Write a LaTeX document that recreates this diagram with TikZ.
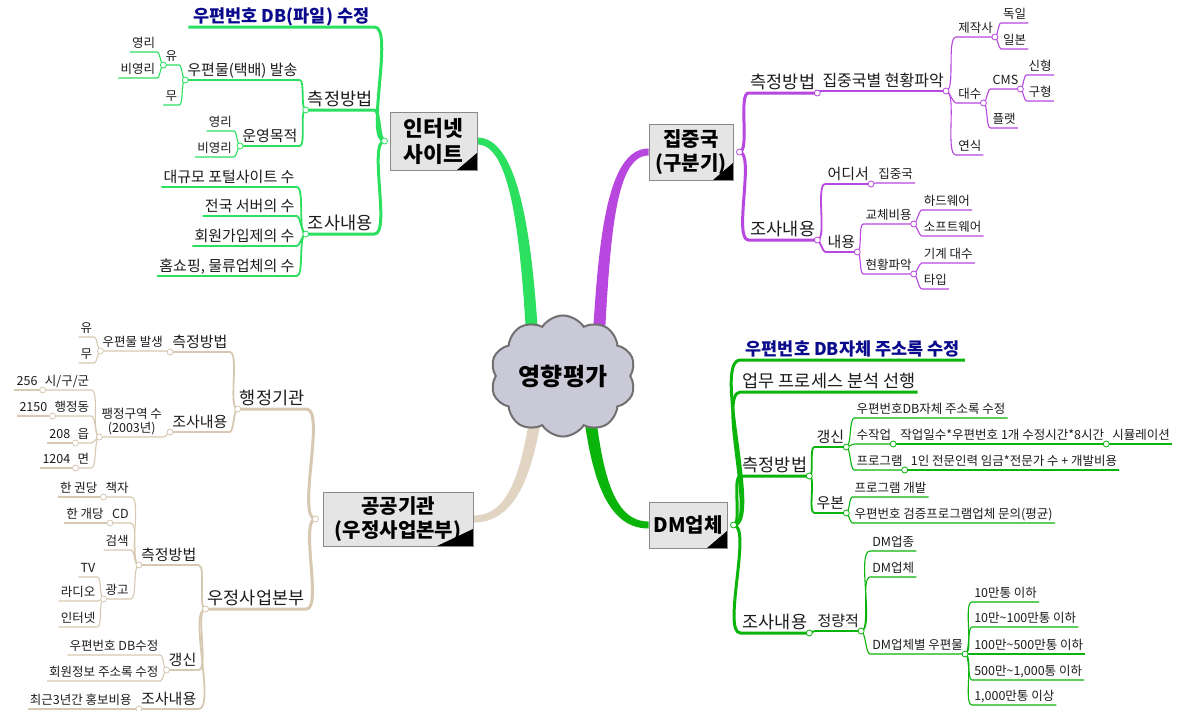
\documentclass[tikz,border=0pt]{standalone}
\usepackage{fontspec}
\setmainfont{Noto Sans CJK KR}
\usetikzlibrary{shapes.symbols,positioning,calc}
\pgfdeclarelayer{background}
\pgfsetlayers{background,main}

\definecolor{ink}{HTML}{1C1C1C}
\definecolor{navy}{HTML}{0A0A8C}
\definecolor{cI}{HTML}{2BE05E}
\definecolor{cJ}{HTML}{B847E0}
\definecolor{cD}{HTML}{0AB40A}
\definecolor{cP}{HTML}{D7C8B2}
\definecolor{cPmain}{HTML}{E2D4C2}
\definecolor{boxfill}{HTML}{E5E5E5}
\definecolor{boxline}{HTML}{8A8A8A}
\definecolor{cloudfill}{HTML}{C9C9D7}
\definecolor{cloudline}{HTML}{707070}

\tikzset{
  lt/.style={anchor=south east},
  rt/.style={anchor=south west},
  lbl/.style={inner xsep=2pt, inner ysep=2pt, text=ink},
  h1/.style={lbl, font=\fontsize{17.5}{20}\selectfont, text height=14.9pt, text depth=2.6pt},
  h2/.style={lbl, font=\fontsize{15}{17}\selectfont, text height=12.8pt, text depth=2.2pt},
  h3/.style={lbl, font=\fontsize{12.5}{14.5}\selectfont, text height=10.6pt, text depth=1.9pt},
  head/.style={lbl, text=navy, inner xsep=5pt, font=\bfseries\fontsize{17.5}{20}\selectfont, text height=14.9pt, text depth=2.6pt},
  w1/.style={line width=3pt, line join=round},
  w2/.style={line width=1.8pt, line join=round},
  w3/.style={line width=1.1pt, line join=round},
  lc/.style={out=180, in=0, looseness=0.45},
  rc/.style={out=0, in=180, looseness=0.45},
  dot/.style={circle, draw=#1, fill=white, line width=0.8pt, inner sep=0pt, minimum size=6pt},
  corner/.style={path picture={\fill[black] (path picture bounding box.south east) -- ++(-#1,0) -- ++(#1,-17) -- cycle;}},
  hub/.style={draw=boxline, fill=boxfill, line width=1pt, align=center, inner sep=2pt,
    font=\bfseries\fontsize{20}{24}\selectfont, corner=20},
  cloudy/.style={cloud, cloud puffs=10, cloud puff arc=115, aspect=1.3, draw=cloudline, fill=cloudfill,
    line width=2pt, minimum width=140, minimum height=106, font=\bfseries\fontsize{24}{26}\selectfont},
}

\begin{document}
\begin{tikzpicture}[x=1pt,y=-1pt]
\useasboundingbox (0,0) rectangle (1192,710);

% centre and main topics
\node[cloudy] (core) at (563,376) {영향평가};
\node[hub, minimum width=87, minimum height=58, font=\bfseries\fontsize{21.5}{26}\selectfont] (inet) at (433.5,141) {인터넷\\사이트};
\node[hub, minimum width=84, minimum height=56] (jung) at (691,152) {집중국\\(구분기)};
\node[hub, minimum width=150, minimum height=54, corner=36] (pub) at (398,519) {공공기관\\(우정사업본부)};
\node[hub, minimum width=78, minimum height=46] (dm) at (688,525) {DM업체};

% tapered trunks
\begin{pgfonlayer}{background}
\fill[white] (0,0) rectangle (1192,710);
\fill[cI] ($(inet.east)+(0,-3.5)$) .. controls +(42,0) and +(-6,-110) .. ($(core.center)+(-24,-25)$)
  -- ($(core.center)+(-36,-25)$) .. controls +(-6,-110) and +(34,0) .. ($(inet.east)+(0,3.5)$) -- cycle;
\fill[cJ] ($(jung.west)+(0,-3.5)$) .. controls +(-42,0) and +(6,-110) .. ($(core.center)+(29,-25)$)
  -- ($(core.center)+(41,-25)$) .. controls +(6,-110) and +(-34,0) .. ($(jung.west)+(0,3.5)$) -- cycle;
\fill[cPmain] ($(pub.east)+(0,3.5)$) .. controls +(44,0) and +(-10,70) .. ($(core.center)+(-19,25)$)
  -- ($(core.center)+(-31,25)$) .. controls +(-10,70) and +(36,0) .. ($(pub.east)+(0,-3.5)$) -- cycle;
\fill[cD] ($(dm.west)+(0,3.5)$) .. controls +(-44,0) and +(8,70) .. ($(core.center)+(19,25)$)
  -- ($(core.center)+(31,25)$) .. controls +(8,70) and +(-36,0) .. ($(dm.west)+(0,-3.5)$) -- cycle;
\end{pgfonlayer}

% 인터넷 사이트
\coordinate (inetJ) at ($(inet.west)+(-5,0)$);
\node[head,lt] (iDB) at ($(inetJ |- 0,27)+(-10,0)$) {우편번호 DB(파일) 수정};
\node[h1,lt] (iM) at ($(inetJ |- 0,110)+(-10,0)$) {측정방법};
\node[h2,lt] (iM1) at ($(iM.south west |- 0,80)+(-6,0)$) {우편물(택배) 발송};
\node[h3,lt] (iM1a) at ($(iM1.south west |- 0,65)+(-6,0)$) {유};
\node[h3,lt] (iM1a1) at ($(iM1a.south west |- 0,52)+(-6,0)$) {영리};
\node[h3,lt] (iM1a2) at ($(iM1a.south west |- 0,78)+(-6,0)$) {비영리};
\node[h3,lt] (iM1b) at ($(iM1.south west |- 0,105)+(-6,0)$) {무};
\node[h2,lt] (iM2) at ($(iM.south west |- 0,146)+(-6,0)$) {운영목적};
\node[h3,lt] (iM2a) at ($(iM2.south west |- 0,131)+(-6,0)$) {영리};
\node[h3,lt] (iM2b) at ($(iM2.south west |- 0,157)+(-6,0)$) {비영리};
\node[h1,lt] (iS) at ($(inetJ |- 0,234)+(-10,0)$) {조사내용};
\node[h2,lt] (iS1) at ($(iS.south west |- 0,187)+(-9,0)$) {대규모 포털사이트 수};
\node[h2,lt] (iS2) at ($(iS.south west |- 0,216)+(-9,0)$) {전국 서버의 수};
\node[h2,lt] (iS3) at ($(iS.south west |- 0,246)+(-9,0)$) {회원가입제의 수};
\node[h2,lt] (iS4) at ($(iS.south west |- 0,276)+(-9,0)$) {홈쇼핑, 물류업체의 수};

\draw[cI,w1] (inetJ) to[lc] (iDB.south east) -- (iDB.south west);
\draw[cI,w1] (inetJ) to[lc] (iM.south east) -- (iM.south west);
\draw[cI,w1] (inetJ) to[lc] (iS.south east) -- (iS.south west);
\draw[cI,w2] (iM.south west) to[lc] (iM1.south east) -- (iM1.south west);
\draw[cI,w2] (iM.south west) to[lc] (iM2.south east) -- (iM2.south west);
\draw[cI,w3] (iM1.south west) to[lc] (iM1a.south east) -- (iM1a.south west);
\draw[cI,w3] (iM1.south west) to[lc] (iM1b.south east) -- (iM1b.south west);
\draw[cI,w3] (iM1a.south west) to[lc] (iM1a1.south east) -- (iM1a1.south west);
\draw[cI,w3] (iM1a.south west) to[lc] (iM1a2.south east) -- (iM1a2.south west);
\draw[cI,w3] (iM2.south west) to[lc] (iM2a.south east) -- (iM2a.south west);
\draw[cI,w3] (iM2.south west) to[lc] (iM2b.south east) -- (iM2b.south west);
\draw[cI,w2] (iS.south west) to[lc] (iS1.south east) -- (iS1.south west);
\draw[cI,w2] (iS.south west) to[lc] (iS2.south east) -- (iS2.south west);
\draw[cI,w2] (iS.south west) to[lc] (iS3.south east) -- (iS3.south west);
\draw[cI,w2] (iS.south west) to[lc] (iS4.south east) -- (iS4.south west);

\node[dot=cI] at (inetJ) {};
\node[dot=cI] at (iM.south west) {};
\node[dot=cI] at (iM1.south west) {};
\node[dot=cI] at (iM1a.south west) {};
\node[dot=cI] at (iM2.south west) {};
\node[dot=cI] at (iS.south west) {};

% 집중국 (구분기)
\coordinate (jungJ) at ($(jung.east)+(6,0)$);
\node[h1,rt] (jM) at ($(jungJ |- 0,93)+(9,0)$) {측정방법};
\node[h2,rt,font=\fontsize{16}{18}\selectfont] (jM1) at ($(jM.south east |- 0,91)+(3,0)$) {집중국별 현황파악};
\node[h3,rt] (jM1a) at ($(jM1.south east |- 0,37)+(10,0)$) {제작사};
\node[h3,rt] (jM1a1) at ($(jM1a.south east |- 0,23)+(6,0)$) {독일};
\node[h3,rt] (jM1a2) at ($(jM1a.south east |- 0,49)+(6,0)$) {일본};
\node[h3,rt] (jM1b) at ($(jM1.south east |- 0,103)+(10,0)$) {대수};
\node[h3,rt] (jM1b1) at ($(jM1b.south east |- 0,89)+(7,0)$) {CMS};
\node[h3,rt] (jM1b1a) at ($(jM1b1.south east |- 0,75)+(6,0)$) {신형};
\node[h3,rt] (jM1b1b) at ($(jM1b1.south east |- 0,101)+(6,0)$) {구형};
\node[h3,rt] (jM1b2) at ($(jM1b.south east |- 0,128)+(7,0)$) {플랫};
\node[h3,rt] (jM1c) at ($(jM1.south east |- 0,155)+(10,0)$) {연식};
\node[h1,rt] (jS) at ($(jungJ |- 0,240)+(9,0)$) {조사내용};
\node[h2,rt] (jS1) at ($(jS.south east |- 0,184)+(8,0)$) {어디서};
\node[h3,rt] (jS1a) at ($(jS1.south east |- 0,183)+(5,0)$) {집중국};
\node[h2,rt] (jS2) at ($(jS.south east |- 0,252)+(8,0)$) {내용};
\node[h3,rt] (jS2a) at ($(jS2.south east |- 0,224)+(6,0)$) {교체비용};
\node[h3,rt] (jS2a1) at ($(jS2a.south east |- 0,210)+(8,0)$) {하드웨어};
\node[h3,rt] (jS2a2) at ($(jS2a.south east |- 0,236)+(8,0)$) {소프트웨어};
\node[h3,rt] (jS2b) at ($(jS2.south east |- 0,274)+(6,0)$) {현황파악};
\node[h3,rt] (jS2b1) at ($(jS2b.south east |- 0,263)+(8,0)$) {기계 대수};
\node[h3,rt] (jS2b2) at ($(jS2b.south east |- 0,289)+(8,0)$) {타입};

\draw[cJ,w1] (jungJ) to[rc] (jM.south west) -- (jM.south east);
\draw[cJ,w1] (jungJ) to[rc] (jS.south west) -- (jS.south east);
\draw[cJ,w2] (jM.south east) to[rc] (jM1.south west) -- (jM1.south east);
\draw[cJ,w3] (jM1.south east) to[rc] (jM1a.south west) -- (jM1a.south east);
\draw[cJ,w3] (jM1a.south east) to[rc] (jM1a1.south west) -- (jM1a1.south east);
\draw[cJ,w3] (jM1a.south east) to[rc] (jM1a2.south west) -- (jM1a2.south east);
\draw[cJ,w3] (jM1.south east) to[rc] (jM1b.south west) -- (jM1b.south east);
\draw[cJ,w3] (jM1b.south east) to[rc] (jM1b1.south west) -- (jM1b1.south east);
\draw[cJ,w3] (jM1b1.south east) to[rc] (jM1b1a.south west) -- (jM1b1a.south east);
\draw[cJ,w3] (jM1b1.south east) to[rc] (jM1b1b.south west) -- (jM1b1b.south east);
\draw[cJ,w3] (jM1b.south east) to[rc] (jM1b2.south west) -- (jM1b2.south east);
\draw[cJ,w3] (jM1.south east) to[rc] (jM1c.south west) -- (jM1c.south east);
\draw[cJ,w2] (jS.south east) to[rc] (jS1.south west) -- (jS1.south east);
\draw[cJ,w3] (jS1.south east) to[rc] (jS1a.south west) -- (jS1a.south east);
\draw[cJ,w2] (jS.south east) to[rc] (jS2.south west) -- (jS2.south east);
\draw[cJ,w3] (jS2.south east) to[rc] (jS2a.south west) -- (jS2a.south east);
\draw[cJ,w3] (jS2a.south east) to[rc] (jS2a1.south west) -- (jS2a1.south east);
\draw[cJ,w3] (jS2a.south east) to[rc] (jS2a2.south west) -- (jS2a2.south east);
\draw[cJ,w3] (jS2.south east) to[rc] (jS2b.south west) -- (jS2b.south east);
\draw[cJ,w3] (jS2b.south east) to[rc] (jS2b1.south west) -- (jS2b1.south east);
\draw[cJ,w3] (jS2b.south east) to[rc] (jS2b2.south west) -- (jS2b2.south east);

\node[dot=cJ] at (jungJ) {};
\node[dot=cJ] at (jM.south east) {};
\node[dot=cJ] at (jM1.south east) {};
\node[dot=cJ] at (jM1a.south east) {};
\node[dot=cJ] at (jM1b.south east) {};
\node[dot=cJ] at (jM1b1.south east) {};
\node[dot=cJ] at (jS.south east) {};
\node[dot=cJ] at (jS1.south east) {};
\node[dot=cJ] at (jS2.south east) {};
\node[dot=cJ] at (jS2a.south east) {};
\node[dot=cJ] at (jS2b.south east) {};

% DM업체
\coordinate (dmJ) at ($(dm.east)+(6,0)$);
\node[head,rt] (dHead) at ($(dmJ |- 0,360)+(7,0)$) {우편번호 DB자체 주소록 수정};
\node[h1,rt] (dPre) at ($(dmJ |- 0,392)+(7,0)$) {업무 프로세스 분석 선행};
\node[h1,rt] (dM) at ($(dmJ |- 0,476)+(7,0)$) {측정방법};
\node[h2,rt] (dM1) at ($(dM.south east |- 0,447)+(5,0)$) {갱신};
\node[h3,rt] (dM1a) at ($(dM1.south east |- 0,418)+(8,0)$) {우편번호DB자체 주소록 수정};
\node[h3,rt] (dM1b) at ($(dM1.south east |- 0,444)+(8,0)$) {수작업};
\node[h3,rt] (dM1b1) at ($(dM1b.south east |- 0,444)+(5,0)$) {작업일수*우편번호 1개 수정시간*8시간};
\node[h3,rt] (dM1b1a) at ($(dM1b1.south east |- 0,444)+(4,0)$) {시뮬레이션};
\node[h3,rt] (dM1c) at ($(dM1.south east |- 0,470)+(8,0)$) {프로그램};
\node[h3,rt] (dM1c1) at ($(dM1c.south east |- 0,470)+(4,0)$) {1인 전문인력 임금*전문가 수 + 개발비용};
\node[h2,rt] (dM2) at ($(dM.south east |- 0,513)+(5,0)$) {우본};
\node[h3,rt] (dM2a) at ($(dM2.south east |- 0,497)+(6,0)$) {프로그램 개발};
\node[h3,rt] (dM2b) at ($(dM2.south east |- 0,523)+(6,0)$) {우편번호 검증프로그램업체 문의(평균)};
\node[h1,rt] (dS) at ($(dmJ |- 0,633)+(7,0)$) {조사내용};
\node[h2,rt] (dS1) at ($(dS.south east |- 0,631)+(6,0)$) {정량적};
\node[h3,rt] (dS1a) at ($(dS1.south east |- 0,551)+(9,0)$) {DM업종};
\node[h3,rt] (dS1b) at ($(dS1.south east |- 0,577)+(9,0)$) {DM업체};
\node[h3,rt] (dS1c) at ($(dS1.south east |- 0,654)+(9,0)$) {DM업체별 우편물};
\node[h3,rt] (dS1c1) at ($(dS1c.south east |- 0,602)+(7,0)$) {10만통 이하};
\node[h3,rt] (dS1c2) at ($(dS1c.south east |- 0,627)+(7,0)$) {10만\textasciitilde100만통 이하};
\node[h3,rt] (dS1c3) at ($(dS1c.south east |- 0,654)+(7,0)$) {100만\textasciitilde500만통 이하};
\node[h3,rt] (dS1c4) at ($(dS1c.south east |- 0,680)+(7,0)$) {500만\textasciitilde1,000통 이하};
\node[h3,rt] (dS1c5) at ($(dS1c.south east |- 0,705)+(7,0)$) {1,000만통 이상};

\draw[cD,w1] (dmJ) to[rc] (dHead.south west) -- (dHead.south east);
\draw[cD,w1] (dmJ) to[rc] (dPre.south west) -- (dPre.south east);
\draw[cD,w1] (dmJ) to[rc] (dM.south west) -- (dM.south east);
\draw[cD,w1] (dmJ) to[rc] (dS.south west) -- (dS.south east);
\draw[cD,w2] (dM.south east) to[rc] (dM1.south west) -- (dM1.south east);
\draw[cD,w3] (dM1.south east) to[rc] (dM1a.south west) -- (dM1a.south east);
\draw[cD,w3] (dM1.south east) to[rc] (dM1b.south west) -- (dM1b.south east);
\draw[cD,w3] (dM1b.south east) to[rc] (dM1b1.south west) -- (dM1b1.south east);
\draw[cD,w3] (dM1b1.south east) to[rc] (dM1b1a.south west) -- (dM1b1a.south east);
\draw[cD,w3] (dM1.south east) to[rc] (dM1c.south west) -- (dM1c.south east);
\draw[cD,w3] (dM1c.south east) to[rc] (dM1c1.south west) -- (dM1c1.south east);
\draw[cD,w2] (dM.south east) to[rc] (dM2.south west) -- (dM2.south east);
\draw[cD,w3] (dM2.south east) to[rc] (dM2a.south west) -- (dM2a.south east);
\draw[cD,w3] (dM2.south east) to[rc] (dM2b.south west) -- (dM2b.south east);
\draw[cD,w2] (dS.south east) to[rc] (dS1.south west) -- (dS1.south east);
\draw[cD,w3] (dS1.south east) to[rc] (dS1a.south west) -- (dS1a.south east);
\draw[cD,w3] (dS1.south east) to[rc] (dS1b.south west) -- (dS1b.south east);
\draw[cD,w3] (dS1.south east) to[rc] (dS1c.south west) -- (dS1c.south east);
\draw[cD,w3] (dS1c.south east) to[rc] (dS1c1.south west) -- (dS1c1.south east);
\draw[cD,w3] (dS1c.south east) to[rc] (dS1c2.south west) -- (dS1c2.south east);
\draw[cD,w3] (dS1c.south east) to[rc] (dS1c3.south west) -- (dS1c3.south east);
\draw[cD,w3] (dS1c.south east) to[rc] (dS1c4.south west) -- (dS1c4.south east);
\draw[cD,w3] (dS1c.south east) to[rc] (dS1c5.south west) -- (dS1c5.south east);

\node[dot=cD] at (dmJ) {};
\node[dot=cD] at (dM.south east) {};
\node[dot=cD] at (dM1.south east) {};
\node[dot=cD] at (dM1b.south east) {};
\node[dot=cD] at (dM1b1.south east) {};
\node[dot=cD] at (dM1c.south east) {};
\node[dot=cD] at (dM2.south east) {};
\node[dot=cD] at (dS.south east) {};
\node[dot=cD] at (dS1.south east) {};
\node[dot=cD] at (dS1c.south east) {};

% 공공기관 (우정사업본부)
\coordinate (pubJ) at ($(pub.west)+(-7,0)$);
\node[h1,lt] (pA) at ($(pubJ |- 0,409)+(-9,0)$) {행정기관};
\node[h2,lt] (pA1) at ($(pA.south west |- 0,352)+(-8,0)$) {측정방법};
\node[h3,lt] (pA1a) at ($(pA1.south west |- 0,351)+(-5,0)$) {우편물 발생};
\node[h3,lt] (pA1a1) at ($(pA1a.south west |- 0,337)+(-6,0)$) {유};
\node[h3,lt] (pA1a2) at ($(pA1a.south west |- 0,363)+(-6,0)$) {무};
\node[h2,lt] (pA2) at ($(pA.south west |- 0,432)+(-8,0)$) {조사내용};
\node[h3,lt,align=center] (pA2a) at ($(pA2.south west |- 0,437)+(-6,0)$) {팽정구역 수\\(2003년)};
\node[h3,lt] (pA2a1) at ($(pA2a.south west |- 0,390)+(-8,0)$) {시/구/군};
\node[h3,lt] (pA2a1a) at ($(pA2a1.south west |- 0,390)+(-3,0)$) {256};
\node[h3,lt] (pA2a2) at ($(pA2a.south west |- 0,416)+(-8,0)$) {행정동};
\node[h3,lt] (pA2a2a) at ($(pA2a2.south west |- 0,416)+(-3,0)$) {2150};
\node[h3,lt] (pA2a3) at ($(pA2a.south west |- 0,443)+(-8,0)$) {읍};
\node[h3,lt] (pA2a3a) at ($(pA2a3.south west |- 0,443)+(-3,0)$) {208};
\node[h3,lt] (pA2a4) at ($(pA2a.south west |- 0,468)+(-8,0)$) {면};
\node[h3,lt] (pA2a4a) at ($(pA2a4.south west |- 0,468)+(-3,0)$) {1204};
\node[h1,lt] (pB) at ($(pubJ |- 0,609)+(-9,0)$) {우정사업본부};
\node[h2,lt] (pB1) at ($(pB.south west |- 0,565)+(-7,0)$) {측정방법};
\node[h3,lt] (pB1a) at ($(pB1.south west |- 0,497)+(-8,0)$) {책자};
\node[h3,lt] (pB1a1) at ($(pB1a.south west |- 0,497)+(-4,0)$) {한 권당};
\node[h3,lt] (pB1b) at ($(pB1.south west |- 0,523)+(-8,0)$) {CD};
\node[h3,lt] (pB1b1) at ($(pB1b.south west |- 0,523)+(-4,0)$) {한 개당};
\node[h3,lt] (pB1c) at ($(pB1.south west |- 0,550)+(-8,0)$) {검색};
\node[h3,lt] (pB1d) at ($(pB1.south west |- 0,599)+(-8,0)$) {광고};
\node[h3,lt] (pB1d1) at ($(pB1d.south west |- 0,577)+(-6,0)$) {TV};
\node[h3,lt] (pB1d2) at ($(pB1d.south west |- 0,601)+(-6,0)$) {라디오};
\node[h3,lt] (pB1d3) at ($(pB1d.south west |- 0,627)+(-6,0)$) {인터넷};
\node[h2,lt] (pB2) at ($(pB.south west |- 0,670)+(-7,0)$) {갱신};
\node[h3,lt] (pB2a) at ($(pB2.south west |- 0,655)+(-6,0)$) {우편번호 DB수정};
\node[h3,lt] (pB2b) at ($(pB2.south west |- 0,681)+(-6,0)$) {회원정보 주소록 수정};
\node[h2,lt] (pB3) at ($(pB.south west |- 0,709)+(-7,0)$) {조사내용};
\node[h3,lt] (pB3a) at ($(pB3.south west |- 0,709)+(-5,0)$) {최근3년간 홍보비용};

\draw[cP,w1] (pubJ) to[lc] (pA.south east) -- (pA.south west);
\draw[cP,w1] (pubJ) to[lc] (pB.south east) -- (pB.south west);
\draw[cP,w2] (pA.south west) to[lc] (pA1.south east) -- (pA1.south west);
\draw[cP,w3] (pA1.south west) to[lc] (pA1a.south east) -- (pA1a.south west);
\draw[cP,w3] (pA1a.south west) to[lc] (pA1a1.south east) -- (pA1a1.south west);
\draw[cP,w3] (pA1a.south west) to[lc] (pA1a2.south east) -- (pA1a2.south west);
\draw[cP,w2] (pA.south west) to[lc] (pA2.south east) -- (pA2.south west);
\draw[cP,w3] (pA2.south west) to[lc] (pA2a.south east) -- (pA2a.south west);
\draw[cP,w3] (pA2a.south west) to[lc] (pA2a1.south east) -- (pA2a1.south west);
\draw[cP,w3] (pA2a1.south west) to[lc] (pA2a1a.south east) -- (pA2a1a.south west);
\draw[cP,w3] (pA2a.south west) to[lc] (pA2a2.south east) -- (pA2a2.south west);
\draw[cP,w3] (pA2a2.south west) to[lc] (pA2a2a.south east) -- (pA2a2a.south west);
\draw[cP,w3] (pA2a.south west) to[lc] (pA2a3.south east) -- (pA2a3.south west);
\draw[cP,w3] (pA2a3.south west) to[lc] (pA2a3a.south east) -- (pA2a3a.south west);
\draw[cP,w3] (pA2a.south west) to[lc] (pA2a4.south east) -- (pA2a4.south west);
\draw[cP,w3] (pA2a4.south west) to[lc] (pA2a4a.south east) -- (pA2a4a.south west);
\draw[cP,w2] (pB.south west) to[lc] (pB1.south east) -- (pB1.south west);
\draw[cP,w3] (pB1.south west) to[lc] (pB1a.south east) -- (pB1a.south west);
\draw[cP,w3] (pB1a.south west) to[lc] (pB1a1.south east) -- (pB1a1.south west);
\draw[cP,w3] (pB1.south west) to[lc] (pB1b.south east) -- (pB1b.south west);
\draw[cP,w3] (pB1b.south west) to[lc] (pB1b1.south east) -- (pB1b1.south west);
\draw[cP,w3] (pB1.south west) to[lc] (pB1c.south east) -- (pB1c.south west);
\draw[cP,w3] (pB1.south west) to[lc] (pB1d.south east) -- (pB1d.south west);
\draw[cP,w3] (pB1d.south west) to[lc] (pB1d1.south east) -- (pB1d1.south west);
\draw[cP,w3] (pB1d.south west) to[lc] (pB1d2.south east) -- (pB1d2.south west);
\draw[cP,w3] (pB1d.south west) to[lc] (pB1d3.south east) -- (pB1d3.south west);
\draw[cP,w2] (pB.south west) to[lc] (pB2.south east) -- (pB2.south west);
\draw[cP,w3] (pB2.south west) to[lc] (pB2a.south east) -- (pB2a.south west);
\draw[cP,w3] (pB2.south west) to[lc] (pB2b.south east) -- (pB2b.south west);
\draw[cP,w2] (pB.south west) to[lc] (pB3.south east) -- (pB3.south west);
\draw[cP,w3] (pB3.south west) to[lc] (pB3a.south east) -- (pB3a.south west);

\node[dot=cP] at (pubJ) {};
\node[dot=cP] at (pA.south west) {};
\node[dot=cP] at (pA1.south west) {};
\node[dot=cP] at (pA1a.south west) {};
\node[dot=cP] at (pA2.south west) {};
\node[dot=cP] at (pA2a.south west) {};
\node[dot=cP] at (pA2a1.south west) {};
\node[dot=cP] at (pA2a2.south west) {};
\node[dot=cP] at (pA2a3.south west) {};
\node[dot=cP] at (pA2a4.south west) {};
\node[dot=cP] at (pB.south west) {};
\node[dot=cP] at (pB1.south west) {};
\node[dot=cP] at (pB1a.south west) {};
\node[dot=cP] at (pB1b.south west) {};
\node[dot=cP] at (pB1d.south west) {};
\node[dot=cP] at (pB2.south west) {};
\node[dot=cP] at (pB3.south west) {};
\end{tikzpicture}
\end{document}
